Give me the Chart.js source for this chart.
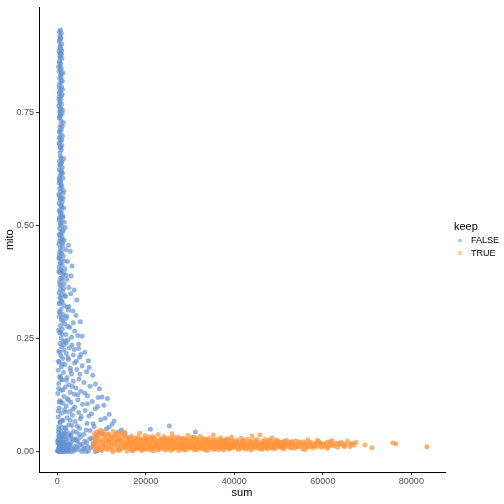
<!DOCTYPE html>
<html>
<head>
<meta charset="utf-8">
<script src="https://cdn.jsdelivr.net/npm/chart.js@4"></script>
<style>
html,body{margin:0;padding:0;background:#fff;}
#wrap{position:relative;width:504px;height:504px;}
</style>
</head>
<body>
<div id="wrap"><canvas id="c" width="504" height="504"></canvas></div>
<script>
// ---- tick labels / categories ----
const legendTitle = "keep";
const seriesNames = ["FALSE", "TRUE"];
const xTicks = [0, 20000, 40000, 60000, 80000];
const yTicks = [0.00, 0.25, 0.50, 0.75];

// ---- series: keep = FALSE  [sum, mito] ----
const keepFalse = [
[700,0.931],[880,0.924],[560,0.918],[760,0.912],[420,0.905],[980,0.901],[640,0.896],[820,0.889],[350,0.884],[720,0.879],
[560,0.873],[1020,0.868],[480,0.862],[760,0.857],[610,0.851],[900,0.846],[380,0.840],[1260,0.836],[700,0.831],[520,0.825],
[880,0.821],[640,0.815],[430,0.810],[950,0.806],[720,0.800],[580,0.794],[1100,0.789],[410,0.784],[800,0.779],[620,0.773],
[940,0.768],[350,0.763],[760,0.757],[540,0.752],[1050,0.747],[680,0.742],[420,0.737],[860,0.731],[1350,0.727],[600,0.716],
[900,0.711],[480,0.706],[760,0.701],[1150,0.697],[560,0.692],[820,0.687],[390,0.681],[1020,0.676],[650,0.671],[880,0.667],
[720,0.652],[1400,0.647],[500,0.642],[830,0.637],[620,0.633],[1080,0.628],[440,0.623],[760,0.618],[900,0.613],[560,0.609],
[1240,0.604],[680,0.599],[390,0.594],[860,0.590],[1020,0.585],[540,0.580],[740,0.575],[1310,0.571],[460,0.566],[880,0.561],
[650,0.557],[1100,0.552],[380,0.548],[800,0.543],[1450,0.538],[590,0.534],[920,0.529],[700,0.525],[1180,0.520],[450,0.516],
[860,0.511],[1600,0.507],[640,0.502],[980,0.498],[520,0.493],[1300,0.489],[760,0.484],[410,0.480],[1050,0.476],[620,0.471],
[1500,0.467],[880,0.463],[350,0.458],[1150,0.454],[700,0.450],[1900,0.446],[540,0.441],[960,0.437],[1350,0.433],[480,0.429],
[820,0.425],[2300,0.420],[660,0.416],[1100,0.412],[400,0.408],[1700,0.404],[880,0.400],[560,0.396],[1250,0.392],[3100,0.388],
[720,0.383],[1000,0.379],[450,0.375],[1550,0.371],[860,0.367],[2600,0.363],[620,0.359],[1200,0.355],[380,0.351],[950,0.347],
[1800,0.343],[700,0.339],[4400,0.335],[1100,0.331],[520,0.327],[1500,0.323],[2200,0.319],[820,0.315],[3500,0.311],[640,0.307],
[1300,0.303],[420,0.299],[2000,0.295],[900,0.291],[5200,0.287],[1600,0.283],[700,0.279],[2800,0.275],[1100,0.271],[3900,0.267],
[500,0.263],[1900,0.259],[5600,0.255],[850,0.251],[2400,0.247],[1300,0.243],[600,0.239],[3300,0.236],
[500,0.910],[620,0.870],[830,0.828],[480,0.792],[690,0.760],[580,0.739],[470,0.694],[600,0.660],[950,0.620],[700,0.596],
[320,0.568],[1000,0.540],[380,0.512],[1200,0.486],[560,0.465],[2900,0.443],[700,0.418],[300,0.398],[2100,0.381],[1400,0.361],
[3000,0.349],[460,0.329],[2500,0.313],[1000,0.297],[3600,0.285],[300,0.269],[4600,0.257],[2000,0.241],
[450,0.927],[780,0.915],[600,0.893],[920,0.877],[520,0.859],[690,0.843],[1100,0.818],[470,0.803],[850,0.786],[560,0.770],
[1180,0.754],[640,0.744],[760,0.722],[530,0.708],[980,0.689],[720,0.673],[860,0.649],[560,0.635],[1150,0.615],[420,0.601],
[780,0.587],[1400,0.577],[650,0.559],[900,0.545],[480,0.531],[1250,0.518],[780,0.505],[1800,0.495],[620,0.478],[1100,0.469],
[2500,0.456],[870,0.444],[480,0.435],[1600,0.422],[3300,0.410],[760,0.402],[2000,0.390],[1100,0.385],[580,0.369],[3800,0.357],
[1700,0.345],[900,0.333],[2600,0.321],[400,0.309],[4200,0.301],[1300,0.289],[2300,0.277],[700,0.265],[3200,0.253],[1700,0.245],
[4800,0.238],[1000,0.260],[2100,0.300],[600,0.341],[1500,0.395],[350,0.427],[1200,0.461],[800,0.520],[1300,0.560],[600,0.605],
[1000,0.640],[500,0.680],[1100,0.718],[650,0.749],[350,0.778],[1150,0.800],[900,0.835],[300,0.850],[600,0.880],[1000,0.885],
[900,0.232],[2700,0.230],[4800,0.228],[1500,0.225],[300,0.222],[6200,0.220],[2000,0.217],[3600,0.214],[800,0.212],[5000,0.209],
[1200,0.206],[2500,0.204],[7000,0.201],[400,0.198],[3900,0.196],[1700,0.193],[5600,0.190],[900,0.188],[2900,0.185],[4400,0.182],
[200,0.180],[6600,0.177],[1400,0.175],[3200,0.172],[8000,0.169],[700,0.167],[2200,0.164],[4900,0.161],[1100,0.159],[3600,0.156],
[6000,0.153],[300,0.151],[2600,0.148],[7400,0.145],[1800,0.143],[4200,0.141],[9500,0.139],[900,0.136],[5300,0.134],[2900,0.131],
[100,0.129],[3800,0.127],[6800,0.124],[1500,0.122],[9200,0.120],[11300,0.118],[2300,0.117],[4600,0.115],[600,0.113],[7900,0.111],
[3100,0.109],[1200,0.107],[5700,0.105],[10500,0.103],[2000,0.101],[3900,0.099],[400,0.097],[8600,0.095],[1600,0.093],[6300,0.091],
[2800,0.089],[4800,0.087],[900,0.085],[11700,0.083],[3400,0.081],[7100,0.079],[200,0.077],[2200,0.075],[5200,0.073],[9800,0.071],
[1300,0.069],[4000,0.067],[600,0.065],[6700,0.063],[12400,0.061],[2600,0.060],[3300,0.058],[8300,0.056],[1000,0.054],[5000,0.052],
[21000,0.050],[300,0.049],[7400,0.047],[2000,0.046],[13800,0.044],[4300,0.043],[15300,0.042],[1500,0.041],[10200,0.040],[6000,0.039],
[700,0.038],[3000,0.037],[8900,0.036],[25300,0.057],[31200,0.044],
[1500,0.236],[3800,0.226],[600,0.219],[5300,0.215],[2400,0.208],[4300,0.200],[1100,0.194],[7200,0.186],[3000,0.179],[5100,0.171],
[500,0.166],[2000,0.158],[8600,0.150],[3400,0.144],[1300,0.137],[6200,0.130],[4600,0.126],[10100,0.121],[2500,0.114],[800,0.110],
[6800,0.106],[9100,0.100],[3500,0.094],[1900,0.088],[7700,0.084],[5400,0.078],[10800,0.074],[2900,0.070],[600,0.066],[8100,0.062],
[4500,0.057],[1700,0.053],[11100,0.051],[6500,0.048],[3600,0.045],[9400,0.042],[300,0.055],[1000,0.070],[200,0.090],[400,0.110],
[300,0.140],[800,0.160],[200,0.200],[12800,0.068],[14500,0.048],[11700,0.055],
[1800,0.034],[400,0.033],[5200,0.032],[2600,0.031],[900,0.030],[7300,0.029],[3600,0.028],[200,0.027],[1500,0.026],[4400,0.025],
[6200,0.024],[700,0.023],[2200,0.022],[3100,0.021],[100,0.020],[8100,0.019],[1200,0.018],[5600,0.017],[2900,0.016],[500,0.015],
[1900,0.014],[4000,0.013],[800,0.012],[6800,0.011],[2400,0.010],[300,0.009],[1300,0.008],[3500,0.007],[600,0.006],[4800,0.005],
[1700,0.004],[200,0.003],[2700,0.002],[900,0.001],[400,0.000],[1500,0.000],[3200,0.000],[5500,0.001],[7000,0.002],[1100,0.003],
[2000,0.004],[300,0.005],[3800,0.006],[1000,0.007],[6100,0.008],[2200,0.009],[500,0.010],[1600,0.012],[700,0.014],[2500,0.016],
[400,0.018],[1300,0.020],[4600,0.022],[100,0.024],[3400,0.026],[1000,0.028],[6500,0.000],[8600,0.001],[9000,0.003],[0,0.002],
[2300,0.000],[1200,0.005],[600,0.017],[1100,0.031],[300,0.036],[800,0.045],[2700,0.040],[1900,0.052],
[150,0.002],[650,0.004],[1050,0.001],[1450,0.006],[1850,0.003],[2250,0.007],[2650,0.005],[450,0.009],[850,0.011],[1250,0.013],
[1650,0.010],[2050,0.015],[2850,0.012],[350,0.019],[750,0.021],[1150,0.024],[1550,0.019],[1950,0.027],[550,0.030],[950,0.034],
[1350,0.036],[1750,0.040],[250,0.043],[3900,0.003],[4500,0.010],[5100,0.015],[5900,0.006],[6600,0.020],[7600,0.009],[4200,0.029],
[3000,0.035],[5000,0.038],[7800,0.030],[8300,0.015],[9400,0.008]
];

// ---- series: keep = TRUE  [sum, mito] ----
const keepTrue = [
[8100,0.012],[8300,0.031],[8500,0.005],[8800,0.044],[9000,0.020],[9200,0.008],[9500,0.037],[9700,0.015],[9900,0.026],[10100,0.003],
[10300,0.046],[10500,0.018],[10800,0.030],[11000,0.009],[11200,0.040],[11500,0.022],[11700,0.013],[11900,0.034],[12100,0.006],[12400,0.028],
[12600,0.045],[12800,0.016],[13000,0.024],[13300,0.004],[13500,0.038],[13700,0.011],[13900,0.032],[14200,0.019],[14400,0.043],[14600,0.007],
[14800,0.027],[15100,0.014],[15300,0.036],[15500,0.021],[15800,0.002],[16000,0.030],
[9300,0.025],[10000,0.041],[10700,0.010],[11400,0.027],[12200,0.019],[12900,0.033],[13600,0.025],[14300,0.012],[15000,0.042],[15700,0.017],
[8700,0.022],[9800,0.005],[11100,0.017],[12500,0.001],[13800,0.007],[15200,0.009],
[8200,0.018],[8400,0.040],[8600,0.027],[8900,0.011],[9100,0.033],[9400,0.004],[9600,0.047],[10200,0.023],[10400,0.013],[10600,0.036],
[10900,0.024],[11300,0.005],[11600,0.039],[11800,0.020],[12000,0.029],[12300,0.010],[12700,0.035],[13100,0.015],[13200,0.041],[13400,0.022],
[14000,0.003],[14100,0.029],[14500,0.023],[14700,0.037],[14900,0.018],[15400,0.011],[15600,0.032],[15900,0.024],
[16200,0.018],[16300,0.008],[16500,0.027],[16600,0.013],[16800,0.035],[16900,0.004],[17100,0.021],[17200,0.011],[17400,0.030],[17500,0.016],
[17700,0.006],[17800,0.025],[18000,0.014],[18100,0.033],[18300,0.009],[18400,0.019],[18600,0.041],[18700,0.012],[18900,0.024],[19000,0.003],
[19200,0.017],[19300,0.029],[19500,0.010],[19600,0.022],[19800,0.036],[19900,0.015],[20100,0.007],[20200,0.026],[20400,0.013],[20500,0.020],
[20700,0.032],[20800,0.005],[21000,0.018],[21100,0.011],[21300,0.028],[21400,0.016],[21600,0.023],[21700,0.002],[21900,0.014],[22000,0.031],
[22200,0.009],[22300,0.019],[22500,0.025],[22600,0.012],[22800,0.038],[22900,0.017],[23100,0.006],[23200,0.022],[23400,0.013],[23500,0.029],
[23700,0.010],[23800,0.020],[24000,0.015],[24100,0.034],[24300,0.004],[24400,0.024],[24600,0.012],[24700,0.018],[24900,0.027],[25000,0.008],
[25200,0.021],[25300,0.014],[25500,0.031],[25600,0.011],[25800,0.019],[25900,0.040],[26100,0.006],[26200,0.016],[26400,0.024],[26500,0.013],
[26700,0.029],[26800,0.009],[27000,0.020],[27100,0.015],[27300,0.033],[27400,0.003],[27600,0.018],[27700,0.025],[27900,0.012],[28000,0.022],
[28200,0.007],[28300,0.016],[28500,0.030],[28600,0.011],[28800,0.019],[28900,0.026],[29100,0.014],[29200,0.005],[29400,0.021],[29500,0.036],
[29700,0.010],[29800,0.017],[30000,0.024],[30100,0.013],[30300,0.028],[30400,0.008],[30600,0.019],[30700,0.015],[30900,0.032],[31000,0.004],
[31200,0.022],[31300,0.012],[31500,0.018],[31600,0.026],[31800,0.009],[31900,0.014],[32100,0.021],[32200,0.034],[32400,0.011],[32500,0.017],
[32700,0.006],[32800,0.024],[33000,0.013],[33100,0.019],[33300,0.028],[33400,0.010],[33600,0.016],[33700,0.023],[33900,0.003],[34000,0.015],
[34200,0.030],[34300,0.012],[34500,0.020],[34600,0.008],[34800,0.025],[34900,0.014],[35100,0.018],[35200,0.037],[35400,0.011],[35500,0.022],
[35700,0.016],[35800,0.006],[36000,0.027],[36100,0.013],[36300,0.019],[36400,0.010],[36600,0.024],[36700,0.015],[36900,0.031],[37000,0.008],
[37200,0.018],[37300,0.012],[37500,0.022],[37600,0.004],[37800,0.017],[37900,0.026],[38100,0.011],[38200,0.020],[38400,0.014],[38500,0.029],
[38700,0.007],[38800,0.016],[39000,0.023],[39100,0.012],[39300,0.019],[39400,0.033],[39600,0.009],[39700,0.015],[39900,0.021],
[16400,0.022],[17000,0.002],[17600,0.019],[18200,0.026],[18800,0.007],[19400,0.014],[20000,0.023],[20600,0.017],[21200,0.006],[21800,0.026],
[22400,0.015],[23000,0.010],[23600,0.018],[24200,0.021],[24800,0.006],[25400,0.017],[26000,0.027],[26600,0.019],[27200,0.010],[27800,0.017],
[28400,0.023],[29000,0.010],[29600,0.014],[30200,0.020],[30800,0.011],[31400,0.029],[32000,0.016],[32600,0.012],[33200,0.007],[33800,0.020],
[34400,0.017],[35000,0.010],[35600,0.014],[36200,0.021],[36800,0.018],[37400,0.014],[38000,0.009],[38600,0.020],[39200,0.016],[39800,0.012],
[16100,0.031],[16700,0.010],[17300,0.024],[17900,0.008],[18500,0.029],[19100,0.021],[19700,0.005],[20300,0.030],[20900,0.012],[21500,0.034],
[22100,0.021],[22700,0.004],[23300,0.027],[23900,0.009],[24500,0.030],[25100,0.013],[25700,0.003],[26300,0.033],[26900,0.022],[27500,0.008],
[28100,0.029],[28700,0.004],[29300,0.027],[29900,0.009],[30500,0.033],[31100,0.016],[31700,0.005],[32300,0.024],[32900,0.030],[33500,0.004],
[34100,0.022],[34700,0.013],[35300,0.027],[35900,0.020],[36500,0.005],[37100,0.025],[37700,0.010],[38300,0.027],[38900,0.006],[39500,0.025],
[16150,0.014],[16750,0.020],[17350,0.008],[17950,0.017],[18550,0.013],[19150,0.008],[19750,0.026],[20350,0.010],[20950,0.024],[21550,0.009],
[22150,0.014],[22750,0.021],[23350,0.017],[23950,0.026],[24550,0.016],[25150,0.024],[25750,0.012],[26350,0.008],[26950,0.014],[27550,0.028],
[28150,0.013],[28750,0.021],[29350,0.016],[29950,0.012],[30550,0.022],[31150,0.008],[31750,0.020],[32350,0.015],[32950,0.018],[33550,0.025],
[34150,0.009],[34750,0.019],[35350,0.005],[35950,0.016],[36550,0.012],[37150,0.020],[37750,0.023],[38350,0.018],[38950,0.013],[39550,0.017],
[40100,0.018],[40300,0.010],[40500,0.026],[40700,0.014],[40900,0.005],[41100,0.021],[41300,0.016],[41500,0.030],[41700,0.011],[41900,0.019],
[42100,0.008],[42300,0.024],[42500,0.013],[42700,0.017],[42900,0.028],[43100,0.009],[43300,0.020],[43500,0.015],[43700,0.004],[43900,0.022],
[44000,0.035],[44200,0.012],[44400,0.018],[44600,0.025],[44800,0.010],[45000,0.016],[45200,0.021],[45400,0.013],[45600,0.007],[45800,0.037],
[46000,0.019],[46200,0.014],[46400,0.024],[46600,0.009],[46800,0.017],[47000,0.012],[47200,0.022],[47400,0.015],[47600,0.006],[47800,0.019],
[48000,0.026],[48200,0.011],[48500,0.031],[48700,0.016],[48900,0.013],[49100,0.021],[49300,0.008],[49500,0.018],[49700,0.014],[49900,0.024],
[50100,0.011],[50300,0.017],[50500,0.020],[50700,0.009],[50900,0.015],[51100,0.022],[51300,0.012],[51500,0.018],[51700,0.014],[51900,0.025],
[40200,0.022],[40800,0.008],[41400,0.013],[42000,0.025],[42600,0.006],[43200,0.016],[43800,0.012],[44300,0.008],[45100,0.027],[45700,0.017],
[46300,0.005],[47100,0.018],[47700,0.025],[48400,0.009],[49000,0.017],[49600,0.022],[50400,0.013],[51200,0.006],
[40000,0.015],[40600,0.019],[41200,0.008],[41800,0.023],[42400,0.016],[43000,0.011],[43600,0.024],[44100,0.015],[44700,0.020],[45300,0.009],
[45900,0.013],[46500,0.020],[46900,0.027],[47300,0.009],[47900,0.014],[48300,0.021],[48800,0.007],[49400,0.026],[49800,0.016],[50200,0.021],
[50600,0.014],[51000,0.010],[51400,0.024],[51800,0.017],
[52100,0.016],[52400,0.010],[52700,0.021],[53000,0.013],[53300,0.019],[53600,0.008],[53900,0.024],[54200,0.015],[54500,0.011],[54800,0.020],
[55100,0.017],[55400,0.007],[55700,0.022],[56000,0.013],[56300,0.018],[56600,0.026],[56900,0.011],[57200,0.016],[57500,0.020],[57800,0.009],
[58100,0.014],[58400,0.019],[58700,0.012],[59000,0.023],[59300,0.016],[59700,0.010],[60100,0.018],[60500,0.014],[60900,0.021],[61300,0.012],
[61700,0.017],[62100,0.025],[62500,0.013],[62900,0.019],[63300,0.010],[63800,0.016],[64200,0.021],[64700,0.014],[65100,0.018],[65600,0.024],
[66100,0.012],[66600,0.019],[67100,0.015],[67500,0.021],[53100,0.023],[55900,0.005],[58800,0.026],[61000,0.008],
[52300,0.019],[52900,0.009],[53500,0.016],[54000,0.012],[54600,0.022],[55200,0.014],[55800,0.019],[56400,0.010],[57000,0.021],[57700,0.013],
[58300,0.017],[59500,0.020],[60300,0.012],[61500,0.022],[62300,0.016],[63600,0.019],[64900,0.011],[66300,0.016],
[69500,0.015],[71100,0.009],[75800,0.020],[76500,0.018],[83500,0.011]
];

const seriesColors = ["rgba(100,148,210,0.68)", "rgba(255,150,62,0.72)"];
const legendColors = ["rgba(100,148,210,0.55)", "rgba(255,150,62,0.6)"];

const toPts = arr => arr.map(p => ({x: p[0], y: p[1]}));

const legendPlugin = {
  id: 'ggLegend',
  afterDraw(chart) {
    const ctx = chart.ctx;
    ctx.save();
    ctx.textBaseline = 'middle';
    ctx.textAlign = 'left';
    ctx.fillStyle = '#000';
    ctx.font = '11px "Liberation Sans", Arial, sans-serif';
    ctx.fillText(legendTitle, 454, 227);
    ctx.font = '9px "Liberation Sans", Arial, sans-serif';
    const ys = [240.5, 253];
    seriesNames.forEach((n, i) => {
      ctx.fillStyle = legendColors[i];
      ctx.beginPath();
      ctx.arc(460, ys[i], 1.9, 0, Math.PI * 2);
      ctx.fill();
      ctx.fillStyle = '#000';
      ctx.fillText(n, 471, ys[i] + 0.5);
    });
    ctx.restore();
  }
};

new Chart(document.getElementById('c'), {
  type: 'scatter',
  data: {
    datasets: [
      {label: seriesNames[0], data: toPts(keepFalse), backgroundColor: seriesColors[0], borderWidth: 0, pointRadius: 2.5, order: 1},
      {label: seriesNames[1], data: toPts(keepTrue), backgroundColor: seriesColors[1], borderWidth: 0, pointRadius: 2.5, order: 0}
    ]
  },
  options: {
    responsive: false,
    animation: false,
    devicePixelRatio: 1,
    layout: {padding: {top: 4, right: 59, left: 0, bottom: 0}},
    plugins: {legend: {display: false}, tooltip: {enabled: false}},
    elements: {point: {hoverRadius: 2.5}},
    scales: {
      x: {
        type: 'linear', min: -4150, max: 87600,
        afterBuildTicks: s => { s.ticks = xTicks.map(v => ({value: v})); },
        afterFit: s => { s.height = 32; },
        ticks: {color: '#4d4d4d', font: {size: 9, family: '"Liberation Sans", Arial, sans-serif'}, padding: 1, callback: v => String(v), maxRotation: 0},
        grid: {display: true, drawOnChartArea: false, drawTicks: true, tickLength: 3, color: '#333', lineWidth: 1},
        border: {display: true, color: '#000', width: 1},
        title: {display: true, text: 'sum', color: '#000', font: {size: 11, family: '"Liberation Sans", Arial, sans-serif'}, padding: {top: 0, bottom: 4}}
      },
      y: {
        type: 'linear', min: -0.0445, max: 0.981,
        afterBuildTicks: s => { s.ticks = yTicks.map(v => ({value: v})); },
        afterFit: s => { s.width = 39; },
        ticks: {color: '#4d4d4d', font: {size: 9, family: '"Liberation Sans", Arial, sans-serif'}, padding: 2, callback: v => Number(v).toFixed(2)},
        grid: {display: true, drawOnChartArea: false, drawTicks: true, tickLength: 3, color: '#333', lineWidth: 1},
        border: {display: true, color: '#000', width: 1},
        title: {display: true, text: 'mito', color: '#000', font: {size: 11, family: '"Liberation Sans", Arial, sans-serif'}, padding: {top: 3, bottom: 0}}
      }
    }
  },
  plugins: [legendPlugin]
});
</script>
</body>
</html>
